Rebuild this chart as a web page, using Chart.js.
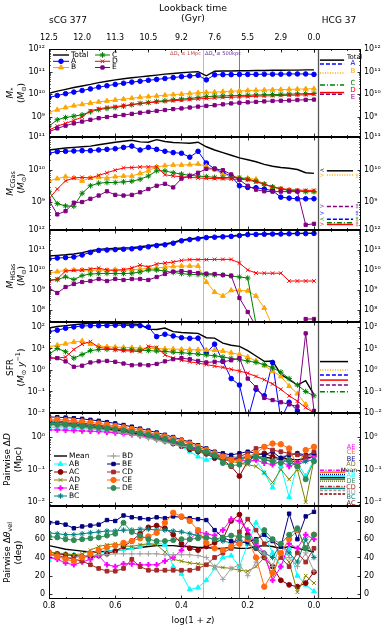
<!DOCTYPE html>
<html>
<head>
<meta charset="utf-8">
<script src="https://cdn.jsdelivr.net/npm/chart.js@4.4.1/dist/chart.umd.min.js"></script>
<style>
  body { margin: 0; background: #fff; }
  #wrap { position: relative; width: 388px; height: 630px; }
  #wrap canvas { position: absolute; left: 0; top: 0; }
</style>
</head>
<body>
<div id="wrap">
  <canvas id="p1" width="388" height="630"></canvas>
  <canvas id="p2" width="388" height="630"></canvas>
  <canvas id="p3" width="388" height="630"></canvas>
  <canvas id="p4" width="388" height="630"></canvas>
  <canvas id="p5" width="388" height="630"></canvas>
  <canvas id="p6" width="388" height="630"></canvas>
</div>
<script>
// snapshots, log(1+z)
const snapX = [0.8, 0.775, 0.75, 0.725, 0.7, 0.675, 0.65, 0.625, 0.6, 0.575, 0.55, 0.525, 0.5, 0.475, 0.45, 0.425, 0.4,
  0.375, 0.35, 0.325, 0.3, 0.275, 0.25, 0.225, 0.2, 0.175, 0.15, 0.125, 0.1, 0.075, 0.05, 0.025, 0.0];

// top axis: lookback time
const topTickPos = [0.8, 0.7, 0.6, 0.5, 0.4, 0.3, 0.2, 0.1, 0.0];
const topTickLabels = ["12.5", "12.0", "11.3", "10.5", "9.2", "7.6", "5.5", "2.9", "0.0"];
const bottomTickPos = [0.8, 0.6, 0.4, 0.2, 0.0];
const refLines = [0.335, 0.226]; // dD <= 1Mpc, dD <= 500kpc
const dividerX = -0.012;

// log10 M* (Msun)
const mstarTotal = [10.05, 10.14, 10.22, 10.3, 10.37, 10.44, 10.52, 10.58, 10.64, 10.69, 10.73, 10.77, 10.81, 10.85, 10.89, 10.92, 10.95, 10.98, 11.0, 10.82, 11.02, 11.03, 11.03, 11.04, 11.04, 11.05, 11.05, 11.06, 11.06, 11.07, 11.07, 11.08, 11.08];
const mstarA = [9.86, 9.95, 10.03, 10.1, 10.17, 10.24, 10.32, 10.38, 10.44, 10.49, 10.54, 10.58, 10.62, 10.66, 10.7, 10.74, 10.78, 10.81, 10.84, 10.64, 10.86, 10.87, 10.87, 10.88, 10.88, 10.88, 10.89, 10.89, 10.89, 10.9, 10.9, 10.9, 10.88];
const mstarB = [9.21, 9.32, 9.42, 9.5, 9.56, 9.62, 9.67, 9.71, 9.75, 9.79, 9.83, 9.87, 9.9, 9.93, 9.96, 9.99, 10.01, 10.04, 10.07, 10.09, 10.1, 10.12, 10.14, 10.15, 10.17, 10.18, 10.19, 10.2, 10.21, 10.22, 10.23, 10.24, 10.25];
const mstarC = [8.6, 8.88, 8.98, 9.04, 9.1, 9.23, 9.33, 9.38, 9.42, 9.48, 9.54, 9.6, 9.64, 9.69, 9.72, 9.76, 9.79, 9.82, 9.86, 9.9, 9.92, 9.93, 9.94, 9.95, 9.96, 9.97, 9.98, 9.99, 10.0, 10.01, 10.02, 10.03, 10.04];
const mstarD = [8.42, 8.6, 8.72, 8.85, 9.0, 9.28, 9.36, 9.42, 9.46, 9.5, 9.55, 9.6, 9.63, 9.66, 9.69, 9.72, 9.74, 9.77, 9.8, 9.82, 9.84, 9.86, 9.87, 9.89, 9.9, 9.92, 9.93, 9.94, 9.95, 9.96, 9.97, 9.98, 10.0];
const mstarE = [8.35, 8.5, 8.62, 8.72, 8.8, 8.88, 8.95, 9.0, 9.05, 9.09, 9.14, 9.19, 9.23, 9.27, 9.31, 9.35, 9.38, 9.42, 9.46, 9.49, 9.52, 9.56, 9.6, 9.63, 9.65, 9.67, 9.69, 9.71, 9.72, 9.73, 9.75, 9.76, 9.77];

// log10 M_CGas
const cgasTotal = [10.6, 10.63, 10.66, 10.68, 10.7, 10.72, 10.76, 10.8, 10.84, 10.87, 10.9, 10.85, 10.84, 10.92, 10.86, 10.83, 10.82, 10.81, 10.84, 10.7, 10.6, 10.52, 10.44, 10.36, 10.3, 10.24, 10.16, 10.1, 10.06, 10.04, 10.0, 9.9, 9.88];
const cgasA = [10.5, 10.55, 10.56, 10.57, 10.58, 10.58, 10.6, 10.62, 10.64, 10.68, 10.72, 10.6, 10.68, 10.62, 10.56, 10.52, 10.5, 10.38, 10.56, 10.2, 10.02, 9.9, 9.8, 9.5, 9.45, 9.44, 9.4, 9.35, 9.15, 9.12, 9.1, 9.1, 9.1];
const cgasB = [9.65, 9.72, 9.78, 9.74, 9.65, 9.74, 9.76, 9.74, 9.78, 9.8, 9.8, 9.88, 9.96, 10.08, 10.12, 10.14, 10.14, 10.15, 10.17, 10.1, 10.0, 9.85, 9.8, 9.76, 9.73, 9.7, 9.55, 9.46, 9.4, 9.36, 9.34, 9.33, 9.32];
const cgasC = [9.32, 8.95, 8.88, 8.87, 9.27, 9.5, 9.58, 9.6, 9.6, 9.62, 9.64, 9.7, 9.8, 9.96, 9.96, 9.9, 9.86, 9.82, 9.8, 9.78, 9.76, 9.75, 9.76, 9.74, 9.7, 9.64, 9.55, 9.47, 9.4, 9.36, 9.34, 9.32, 9.32];
const cgasD = [9.1, 9.4, 9.65, 9.74, 9.76, 9.74, 9.82, 9.9, 9.98, 10.05, 10.06, 10.08, 10.08, 10.08, 9.84, 9.8, 9.78, 9.76, 9.74, 9.73, 9.72, 9.72, 9.7, 9.7, 9.68, 9.62, 9.55, 9.46, 9.42, 9.38, 9.37, 9.36, 9.36];
const cgasE = [9.05, 8.62, 8.72, 8.98, 9.0, 9.1, 9.2, 9.33, 9.22, 9.2, 9.22, 9.3, 9.4, 9.5, 9.56, 9.45, 9.72, 9.8, 9.9, 10.02, 10.02, 9.98, 9.85, 9.68, 9.5, 9.38, 9.33, 9.32, 9.32, 9.32, 9.32, 8.3, 8.33];

// log10 M_HGas
const hgasTotal = [10.7, 10.73, 10.76, 10.8, 10.87, 10.96, 11.03, 11.06, 11.08, 11.1, 11.12, 11.16, 11.22, 11.26, 11.3, 11.38, 11.5, 11.55, 11.6, 11.64, 11.66, 11.68, 11.7, 11.74, 11.78, 11.79, 11.8, 11.81, 11.81, 11.82, 11.83, 11.83, 11.84];
const hgasA = [10.55, 10.6, 10.62, 10.65, 10.75, 10.88, 10.98, 11.0, 11.02, 11.04, 11.06, 11.1, 11.16, 11.22, 11.26, 11.34, 11.46, 11.52, 11.56, 11.62, 11.64, 11.66, 11.68, 11.72, 11.77, 11.78, 11.79, 11.8, 11.8, 11.81, 11.82, 11.82, 11.83];
const hgasB = [9.85, 9.92, 9.98, 10.0, 10.0, 9.98, 10.0, 9.98, 10.02, 9.98, 10.02, 10.04, 10.08, 10.1, 10.14, 10.18, 10.2, 10.2, 10.2, 9.4, 8.9, 8.7, 8.98, 8.98, 8.96, 8.7, 8.1, 7.2, null, null, null, null, null];
const hgasC = [9.5, 9.52, 9.66, 9.52, 9.72, 9.8, 9.82, 9.83, 9.82, 9.82, 9.84, 9.9, 10.0, 10.0, 9.95, 9.88, 9.82, 9.78, 9.77, 9.76, 9.76, 9.75, 9.7, 9.65, 9.6, 7.3, null, null, null, null, null, null, null];
const hgasD = [9.45, 9.55, 9.95, 9.98, 10.0, 10.05, 10.1, 10.0, 9.98, 10.02, 10.1, 10.25, 10.15, 10.3, 10.35, 10.4, 10.48, 10.52, 10.52, 10.52, 10.53, 10.53, 10.53, 10.35, 10.0, 9.85, 9.84, 9.84, 9.84, 9.45, 9.45, 9.45, 9.45];
const hgasE = [9.1, 8.85, 9.15, 9.3, 9.4, 9.45, 9.55, 9.45, 9.55, 9.5, 9.55, 9.55, 9.5, 9.65, 9.8, 9.92, 9.95, 9.9, 9.85, 9.82, 9.8, 9.75, 9.72, 8.6, 7.9, 7.2, null, null, null, null, null, 7.55, 7.55];

// log10 SFR (Msun/yr)
const sfrTotal = [1.95, 2.02, 2.06, 2.1, 2.14, 2.17, 2.18, 2.18, 2.16, 2.15, 2.14, 2.12, 1.9, 1.88, 1.95, 1.78, 1.74, 1.72, 1.7, 1.5, 1.48, 1.25, 1.15, 1.1, 0.9, 0.65, 0.4, 0.42, -0.2, -0.45, -0.7, -0.5, -1.15];
const sfrA = [1.78, 1.85, 1.94, 2.0, 2.04, 2.06, 2.06, 2.07, 2.08, 2.07, 2.06, 2.06, 2.0, 1.55, 1.66, 1.58, 1.5, 1.47, 1.48, 0.8, 1.2, 0.4, -0.4, -0.7, -2.3, -0.9, -1.2, 0.35, -2.3, -1.5, -1.9, -2.3, -2.3];
const sfrB = [1.08, 1.15, 1.22, 1.3, 1.35, 1.2, 1.12, 1.08, 1.06, 1.05, 1.04, 1.02, 1.0, 1.0, 0.98, 0.97, 0.96, 0.95, 0.94, 0.93, 0.92, 0.88, 0.8, 0.72, 0.6, 0.42, 0.2, -0.05, -0.3, -0.75, -1.1, -1.6, -2.0];
const sfrC = [0.73, 1.0, 0.85, 0.55, 0.72, 0.9, 0.95, 0.96, 0.95, 0.94, 0.93, 0.92, 0.9, 0.88, 0.86, 0.83, 0.8, 0.77, 0.74, 0.7, 0.66, 0.6, 0.54, 0.48, 0.42, 0.35, 0.25, 0.1, -0.1, -0.4, -0.7, -1.0, -1.2];
const sfrD = [0.54, 0.55, 0.6, 0.95, 1.2, 1.32, 1.05, 1.0, 0.95, 0.9, 0.88, 0.85, 1.1, 1.05, 0.7, 0.55, 0.45, 0.38, 0.32, 0.25, 0.18, 0.12, 0.03, -0.05, -0.15, -0.3, -0.45, -0.65, -0.9, -1.2, -1.45, -1.75, -2.0];
const sfrE = [0.57, 0.55, 0.4, 0.15, 0.2, 0.35, 0.4, 0.42, 0.38, 0.3, 0.22, 0.25, 0.22, 0.28, 0.4, 0.5, 0.55, 0.5, 0.42, 0.35, 0.38, 0.38, 0.45, 0.55, -0.4, -0.8, -1.3, -1.4, -1.5, -1.6, -1.7, 1.7, -1.9];

// HCG 37 reference levels (log10), order Total, A, B, C, D, E
const hcgMstar = [11.51, 11.34, 10.94, 10.41, 10.08, 10.01];
const hcgCgas = [9.96, 8.47, 9.83, 8.36, 8.31, 8.86];
const hcgSfr = [0.39, -0.23, 0.0, -1.01, -0.47, -0.7];

// log10 pairwise separation (Mpc)
const dMean = [0.4, 0.39, 0.38, 0.36, 0.34, 0.32, 0.29, 0.26, 0.22, 0.18, 0.14, 0.09, 0.04, -0.02, -0.08, -0.15, -0.22, -0.3, -0.38, -0.46, -0.54, -0.6, -0.65, -0.66, -0.62, -0.6, -0.62, -0.66, -0.62, -0.68, -0.7, -0.66, -0.6];
const dAB = [0.3, 0.29, 0.28, 0.27, 0.26, 0.24, 0.22, 0.2, 0.17, 0.13, 0.09, 0.05, 0.0, -0.06, -0.12, -0.2, -0.3, -0.45, -0.6, -0.7, -0.62, -0.68, -0.65, -0.6, -0.8, -0.7, -1.1, -1.55, -0.9, -1.85, -0.8, -1.2, -0.7];
const dAC = [0.47, 0.45, 0.43, 0.41, 0.39, 0.36, 0.33, 0.3, 0.26, 0.22, 0.16, 0.1, 0.03, -0.05, -0.12, -0.2, -0.28, -0.38, -0.45, -0.52, -0.65, -0.7, -0.9, -1.2, -0.75, -0.55, -0.5, -0.6, -0.65, -0.7, -0.8, -0.6, -0.55];
const dAD = [0.38, 0.37, 0.35, 0.33, 0.31, 0.28, 0.25, 0.22, 0.18, 0.14, 0.1, 0.05, 0.0, -0.06, -0.13, -0.2, -0.28, -0.36, -0.44, -0.52, -0.6, -0.68, -0.75, -0.8, -0.85, -0.9, -1.1, -1.4, -1.0, -1.3, -1.0, -2.0, -0.7];
const dAE = [0.22, 0.22, 0.21, 0.2, 0.19, 0.18, 0.17, 0.15, 0.13, 0.1, 0.07, 0.04, 0.0, -0.04, -0.09, -0.15, -0.22, -0.3, -0.38, -0.46, -0.55, -0.6, -0.65, -0.7, -0.75, -0.7, -0.8, -0.85, -0.75, -0.9, -0.8, -0.7, -0.6];
const dBC = [0.45, 0.44, 0.42, 0.4, 0.38, 0.35, 0.32, 0.29, 0.25, 0.21, 0.16, 0.11, 0.05, -0.02, -0.1, -0.17, -0.25, -0.33, -0.42, -0.5, -0.6, -0.7, -0.72, -0.65, -0.6, -0.62, -0.7, -0.75, -0.65, -0.8, -0.85, -0.75, -0.7];
const dBD = [0.35, 0.34, 0.33, 0.31, 0.29, 0.27, 0.24, 0.21, 0.17, 0.12, 0.07, 0.02, -0.04, -0.1, -0.16, -0.22, -0.28, -0.3, -0.32, -0.4, -0.5, -0.55, -0.6, -0.62, -0.6, -0.55, -0.65, -0.7, -0.6, -0.55, -0.5, -0.6, -0.55];
const dBE = [0.62, 0.61, 0.6, 0.58, 0.56, 0.53, 0.5, 0.46, 0.42, 0.37, 0.32, 0.26, 0.2, 0.14, 0.07, 0.0, -0.08, -0.15, -0.25, -0.35, -0.45, -0.5, -0.55, -0.5, -0.45, -0.5, -0.55, -0.45, -0.65, -0.55, -0.5, -0.55, -0.5];
const dCD = [0.5, 0.49, 0.47, 0.45, 0.43, 0.4, 0.37, 0.33, 0.29, 0.25, 0.2, 0.15, 0.1, 0.04, -0.02, -0.1, -0.18, -0.27, -0.37, -0.47, -0.55, -0.65, -0.7, -0.6, -0.5, -0.35, -0.3, -0.4, -0.45, -0.5, -0.55, -0.6, -0.45];
const dCE = [0.55, 0.54, 0.52, 0.5, 0.48, 0.45, 0.42, 0.38, 0.34, 0.3, 0.25, 0.2, 0.14, 0.08, 0.02, -0.05, -0.12, -0.2, -0.3, -0.4, -0.5, -0.6, -0.7, -0.75, -0.6, -0.5, -0.3, -0.2, -0.22, -0.35, -0.9, -0.4, -0.3];
const dDE = [0.4, 0.39, 0.38, 0.36, 0.34, 0.32, 0.3, 0.27, 0.24, 0.2, 0.16, 0.12, 0.07, 0.02, -0.05, -0.12, -0.2, -0.28, -0.36, -0.45, -0.55, -0.8, -0.88, -0.85, -0.75, -0.6, -0.7, -0.75, -0.8, -0.7, -0.9, -1.3, -0.75];
// HCG 37 levels, order Mean, AB, AC, AD, AE, BC, BD, BE, CD, CE, DE
const hcgPairD = [-1.25, -1.2, -1.75, -1.36, -1.02, -1.58, -1.64, -1.15, -1.52, -1.08, -1.3];

// pairwise velocity angle (deg)
const vMean = [53, 51, 49, 48, 47, 46, 46, 47, 48, 49, 50, 51, 52, 53, 53, 53, 52, 52, 51, 51, 50, 50, 51, 50, 50, 52, 53, 52, 50, 52, 50, 48, 46];
const vAB = [37, 42, 44, 43, 41, 40, 44, 47, 48, 49, 50, 52, 55, 56, 54, 30, 22, 5, 7, 15, 28, 40, 42, 30, 55, 78, 65, 45, 30, 50, 20, 10, 3];
const vAC = [46, 44, 43, 42, 41, 41, 42, 44, 47, 52, 58, 66, 73, 75, 72, 65, 55, 50, 48, 52, 56, 60, 80, 87, 65, 50, 40, 30, 15, 10, 8, 12, 24];
const vAD = [46, 45, 44, 43, 44, 48, 52, 54, 55, 53, 52, 54, 55, 54, 46, 38, 36, 34, 33, 32, 30, 29, 28, 26, 25, 30, 40, 20, 45, 35, 2, 20, 12];
const vAE = [40, 38, 34, 32, 35, 38, 42, 32, 30, 33, 33, 32, 32, 32, 36, 40, 48, 60, 68, 66, 64, 70, 82, 80, 70, 55, 45, 15, 30, 55, 50, 65, 60];
const vBC = [67, 66, 65, 65, 66, 67, 68, 69, 69, 70, 70, 71, 71, 70, 70, 69, 68, 66, 64, 62, 60, 58, 56, 60, 55, 50, 45, 40, 55, 45, 35, 60, 40];
const vBD = [43, 41, 40, 40, 41, 42, 43, 43, 44, 44, 44, 44, 44, 44, 43, 43, 43, 43, 42, 40, 30, 16, 28, 32, 20, 35, 45, 30, 55, 40, 30, 45, 25];
const vBE = [78, 78, 76, 72, 74, 75, 76, 81, 80, 86, 84, 83, 82, 84, 83, 85, 84, 83, 82, 81, 70, 62, 58, 56, 57, 60, 65, 58, 52, 88, 60, 85, 90];
const vCD = [44, 42, 40, 38, 36, 32, 28, 25, 25, 28, 38, 30, 26, 26, 26, 26, 26, 26, 28, 32, 40, 45, 50, 68, 82, 70, 55, 60, 40, 30, 45, 35, 50];
const vCE = [45, 41, 38, 36, 40, 44, 48, 51, 53, 56, 58, 61, 63, 67, 78, 89, 85, 80, 70, 56, 50, 48, 52, 55, 60, 40, 8, 23, 45, 60, 70, 50, 65];
const vDE = [63, 62, 60, 59, 60, 61, 62, 64, 66, 78, 68, 64, 60, 58, 58, 59, 60, 60, 61, 62, 60, 62, 64, 63, 62, 58, 70, 60, 55, 65, 72, 50, 65];

const X_MIN = -0.142, X_MAX = 0.8;
const FONT = '"DejaVu Sans", sans-serif';
Chart.defaults.font.family = FONT;
Chart.defaults.color = "#000";

const galKeys = ["Total", "A", "B", "C", "D", "E"];
const galStyles = {
  Total: { color: "#000000", width: 1.4, dash: [] },
  A: { color: "#0000ff", marker: "circle", r: 2.3, dash: [4, 2] },
  B: { color: "#ffa500", marker: "triangle", r: 2.8, dash: [1, 1.5] },
  C: { color: "#008000", marker: "star", r: 2.8, dash: [5, 2, 1, 2] },
  D: { color: "#ff0000", marker: "crossRot", r: 2.6, dash: [] },
  E: { color: "#800080", marker: "rect", r: 2.3, dash: [4, 2] },
};
const pairKeys = ["Mean", "AB", "AC", "AD", "AE", "BC", "BD", "BE", "CD", "CE", "DE"];
const pairStyles = {
  Mean: { color: "#000000", width: 1.4, dash: [] },
  AB: { color: "#00ffff", marker: "triangle", r: 2.8, dash: [] },
  AC: { color: "#8b0000", marker: "circle", r: 2.4, dash: [3, 1.5] },
  AD: { color: "#808000", marker: "crossRot", r: 2.6, dash: [1, 1] },
  AE: { color: "#ff00ff", marker: "cross", r: 2.8, mw: 2, dash: [4, 1.5, 1, 1.5] },
  BC: { color: "#008080", marker: "star", r: 2.8, dash: [] },
  BD: { color: "#a0a0a0", marker: "cross", r: 2.8, dash: [3, 1.5] },
  BE: { color: "#000080", marker: "rect", r: 2.4, dash: [1, 1] },
  CD: { color: "#a52a2a", marker: "rect", r: 2.6, dash: [4, 1.5, 1, 1.5] },
  CE: { color: "#ff6a10", marker: "circle", r: 2.7, dash: [] },
  DE: { color: "#2e8b57", marker: "circle", r: 2.5, dash: [] },
};

const SUP = { "0": "⁰", "1": "¹", "2": "²", "3": "³", "4": "⁴", "5": "⁵", "6": "⁶", "7": "⁷", "8": "⁸", "9": "⁹", "-": "⁻" };
function powLabel(v) {
  const e = Math.round(Math.log10(v));
  return "10" + String(e).split("").map((c) => SUP[c]).join("");
}

function toPoints(vals, isLog) {
  return snapX.map((x, i) => ({ x, y: vals[i] === null ? null : isLog ? Math.pow(10, vals[i]) : vals[i] }));
}

function buildDatasets(keys, styles, seriesList, isLog, hcgVals, hcgRange) {
  const ds = keys.map((k, i) => {
    const s = styles[k];
    return {
      data: toPoints(seriesList[i], isLog),
      borderColor: s.color,
      backgroundColor: s.color,
      borderWidth: s.width || 1,
      pointStyle: s.marker || "circle",
      pointRadius: s.marker ? s.r : 0,
      pointBorderWidth: s.mw || 1,
      order: keys.length - i,
    };
  });
  if (hcgVals) {
    keys.forEach((k, i) => {
      const s = styles[k];
      const y = isLog ? Math.pow(10, hcgVals[i]) : hcgVals[i];
      ds.push({
        data: [{ x: hcgRange[0], y }, { x: hcgRange[1], y }],
        borderColor: s.color,
        borderDash: s.dash,
        borderWidth: 1.5,
        pointRadius: 0,
        order: -1 - i,
      });
    });
  }
  return ds;
}

// ---------- text helpers ----------
function partFont(p, size) {
  const s = p.sub || p.sup ? size * 0.72 : size;
  return (p.it ? "italic " : "") + s.toFixed(2) + "px " + FONT;
}
function richText(ctx, item) {
  const parts = typeof item.t === "string" ? [{ t: item.t }] : item.t;
  const size = item.size || 8;
  let w = 0;
  parts.forEach((p) => { ctx.font = partFont(p, size); w += ctx.measureText(p.t).width; });
  ctx.save();
  ctx.translate(item.x, item.y);
  if (item.rot) ctx.rotate(item.rot);
  ctx.fillStyle = item.color || "#000";
  ctx.textBaseline = "middle";
  ctx.textAlign = "left";
  let cx = item.align === "right" ? -w : item.align === "left" ? 0 : -w / 2;
  parts.forEach((p) => {
    ctx.font = partFont(p, size);
    const dy = p.sub ? size * 0.28 : p.sup ? -size * 0.38 : 0;
    ctx.fillText(p.t, cx, dy);
    cx += ctx.measureText(p.t).width;
  });
  ctx.restore();
}

function drawLegend(ctx, entries, styles) {
  const dp = Chart.helpers && Chart.helpers.drawPoint;
  entries.forEach((e) => {
    const s = styles[e.key];
    ctx.save();
    ctx.strokeStyle = s.color;
    ctx.lineWidth = s.width || 1;
    ctx.beginPath();
    ctx.moveTo(e.x, e.y);
    ctx.lineTo(e.x + e.len, e.y);
    ctx.stroke();
    if (s.marker && dp) {
      ctx.fillStyle = s.color;
      ctx.lineWidth = s.mw || 1;
      dp(ctx, { pointStyle: s.marker, radius: s.r, borderWidth: s.mw || 1, rotation: 0 }, e.x + e.len / 2, e.y);
    }
    ctx.restore();
    richText(ctx, { t: e.key, x: e.x + e.len + 2, y: e.y, size: 7.5, align: "left" });
  });
}

const xMajor = [0.8, 0.6, 0.4, 0.2, 0.0];
const xMinor = [0.75, 0.7, 0.65, 0.55, 0.5, 0.45, 0.35, 0.3, 0.25, 0.15, 0.1, 0.05, -0.05, -0.1];

function framePlugin(cfg) {
  return {
    id: "frame_" + cfg.id,
    beforeDatasetsDraw(chart) {
      const { ctx, chartArea: a } = chart;
      const x = chart.scales.x;
      ctx.save();
      ctx.lineWidth = 1;
      ["rgba(190,120,120,0.6)", "#9464c8"].forEach((c, i) => {
        const px = Math.round(x.getPixelForValue(refLines[i])) + 0.5;
        ctx.strokeStyle = c;
        ctx.beginPath();
        ctx.moveTo(px, a.top);
        ctx.lineTo(px, a.bottom);
        ctx.stroke();
      });
      ctx.restore();
    },
    afterDatasetsDraw(chart) {
      const { ctx, chartArea: a } = chart;
      const x = chart.scales.x, y = chart.scales.y;
      ctx.save();
      // divider between evolution and HCG 37 part
      const dv = Math.round(x.getPixelForValue(dividerX)) + 0.5;
      ctx.strokeStyle = "#555";
      ctx.lineWidth = 1.3;
      ctx.beginPath();
      ctx.moveTo(dv, a.top);
      ctx.lineTo(dv, a.bottom);
      ctx.stroke();
      // frame
      ctx.strokeStyle = "#000";
      ctx.lineWidth = 1;
      ctx.strokeRect(a.left + 0.5, a.top + 0.5, a.right - a.left - 1, a.bottom - a.top - 1);
      // inward ticks
      ctx.lineWidth = 0.8;
      ctx.beginPath();
      const xt = (v, len, top, bot) => {
        const px = Math.round(x.getPixelForValue(v)) + 0.5;
        if (top) { ctx.moveTo(px, a.top); ctx.lineTo(px, a.top + len); }
        if (bot) { ctx.moveTo(px, a.bottom); ctx.lineTo(px, a.bottom - len); }
      };
      xMajor.forEach((v) => xt(v, 3.5, true, true));
      xMinor.forEach((v) => xt(v, 2, true, true));
      if (cfg.topAxis) topTickPos.forEach((v) => xt(v, 3.5, true, false));
      const yt = (v, len) => {
        const py = Math.round(y.getPixelForValue(v)) + 0.5;
        if (py < a.top - 0.1 || py > a.bottom + 0.6) return;
        ctx.moveTo(a.left, py); ctx.lineTo(a.left + len, py);
        ctx.moveTo(a.right, py); ctx.lineTo(a.right - len, py);
      };
      cfg.yTicks.forEach((v) => yt(v, 3.5));
      if (cfg.yType === "logarithmic") {
        const e0 = Math.floor(Math.log10(cfg.yMin)), e1 = Math.ceil(Math.log10(cfg.yMax));
        for (let e = e0; e <= e1; e++) {
          for (let k = 2; k <= 9; k++) {
            const v = k * Math.pow(10, e);
            if (v > cfg.yMin && v < cfg.yMax) yt(v, 1.8);
          }
        }
      }
      ctx.stroke();
      ctx.restore();
      // y titles
      const cy = (a.top + a.bottom) / 2;
      cfg.title.forEach((t, i) => richText(ctx, { t, x: cfg.titleX[i], y: cy, size: 9, rot: -Math.PI / 2 }));
      if (cfg.legend) drawLegend(ctx, cfg.legend, cfg.styles);
      (cfg.texts || []).forEach((t) => richText(ctx, t));
    },
  };
}

function panel(cfg) {
  const isLog = cfg.yType === "logarithmic";
  const yAxis = (pos) => ({
    type: cfg.yType,
    position: pos,
    min: cfg.yMin,
    max: cfg.yMax,
    grid: { display: false, drawTicks: false },
    border: { display: false },
    ticks: {
      autoSkip: false,
      padding: pos === "left" ? 4 : 3,
      font: { size: 8 },
      color: "#000",
      callback: (v) => (isLog ? powLabel(v) : String(v)),
    },
    afterBuildTicks: (s) => { s.ticks = cfg.yTicks.map((v) => ({ value: v })); },
    afterFit: (s) => { s.width = pos === "left" ? 49 : 27; },
  });
  const scales = {
    x: {
      type: "linear",
      min: X_MIN,
      max: X_MAX,
      reverse: true,
      display: !!cfg.bottomAxis,
      grid: { display: false, drawTicks: false },
      border: { display: false },
      ticks: { autoSkip: false, maxRotation: 0, padding: 2, font: { size: 8 }, color: "#000", callback: (v) => v.toFixed(1) },
      afterBuildTicks: (s) => { s.ticks = bottomTickPos.map((v) => ({ value: v })); },
      afterFit: (s) => { if (cfg.bottomAxis) s.height = 31; },
    },
    y: yAxis("left"),
    y2: yAxis("right"),
  };
  if (cfg.topAxis) {
    scales.x2 = {
      type: "linear",
      position: "top",
      min: X_MIN,
      max: X_MAX,
      reverse: true,
      grid: { display: false, drawTicks: false },
      border: { display: false },
      ticks: { autoSkip: false, maxRotation: 0, padding: 6, font: { size: 8 }, color: "#000", callback: (v, i) => topTickLabels[i] },
      afterBuildTicks: (s) => { s.ticks = topTickPos.map((v) => ({ value: v })); },
      afterFit: (s) => { s.height = 20; },
    };
  }
  return new Chart(document.getElementById(cfg.id), {
    type: "line",
    data: { datasets: cfg.datasets },
    options: {
      responsive: false,
      animation: false,
      devicePixelRatio: 1,
      events: [],
      layout: { padding: { top: cfg.padTop, bottom: cfg.padBottom, left: 0, right: 0 } },
      plugins: { legend: { display: false }, tooltip: { enabled: false } },
      scales,
    },
    plugins: [framePlugin(cfg)],
  });
}

const MSUN = [{ t: "(" }, { t: "M", it: true }, { t: "⊙", sub: true }, { t: ")" }];

panel({
  id: "p1", padTop: 29, padBottom: 630 - 137,
  yType: "logarithmic", yMin: Math.pow(10, 8.12), yMax: 1e12, yTicks: [1e9, 1e10, 1e11, 1e12],
  topAxis: true,
  datasets: buildDatasets(galKeys, galStyles, [mstarTotal, mstarA, mstarB, mstarC, mstarD, mstarE], true, hcgMstar, [-0.018, -0.091]),
  title: [[{ t: "M", it: true }, { t: "*", sub: true }], MSUN], titleX: [11, 22],
  styles: galStyles,
  legend: [
    { key: "Total", x: 53, y: 55, len: 16 }, { key: "A", x: 53, y: 61.3, len: 16 }, { key: "B", x: 53, y: 67.5, len: 16 },
    { key: "C", x: 95, y: 55, len: 15 }, { key: "D", x: 95, y: 61.3, len: 15 }, { key: "E", x: 95, y: 67.5, len: 15 },
  ],
  texts: [
    { t: "Lookback time", x: 193, y: 8.5, size: 9.3 },
    { t: "(Gyr)", x: 193, y: 19, size: 9.3 },
    { t: "sCG 377", x: 68, y: 21, size: 9 },
    { t: "HCG 37", x: 339, y: 21, size: 9 },
    { t: [{ t: "Δ" }, { t: "D", it: true }, { t: "s", sub: true }, { t: " ≤ 1Mpc" }], x: 201, y: 53.5, size: 5.2, align: "right", color: "#c0504d" },
    { t: [{ t: "Δ" }, { t: "D", it: true }, { t: "s", sub: true }, { t: " ≤ 500kpc" }], x: 205, y: 53.5, size: 5.2, align: "left", color: "#7030a0" },
    { t: "Total", x: 347, y: 57, size: 6.5, align: "left" },
    { t: "A", x: 353, y: 63, size: 7, color: "#0000ff" },
    { t: "B", x: 353, y: 71, size: 7, color: "#ffa500" },
    { t: "C", x: 353, y: 83, size: 7, color: "#008000" },
    { t: "D", x: 353, y: 90, size: 7, color: "#ff0000" },
    { t: "E", x: 353, y: 97, size: 7, color: "#800080" },
  ],
});

panel({
  id: "p2", padTop: 137, padBottom: 630 - 230,
  yType: "logarithmic", yMin: Math.pow(10, 8.14), yMax: 1e11, yTicks: [1e9, 1e10, 1e11],
  datasets: buildDatasets(galKeys, galStyles, [cgasTotal, cgasA, cgasB, cgasC, cgasD, cgasE], true, hcgCgas, [-0.039, -0.118]),
  title: [[{ t: "M", it: true }, { t: "CGas", sub: true }], MSUN], titleX: [11, 22],
  texts: [
    { t: "<", x: 322, y: 170, size: 6, color: "#000" },
    { t: ">", x: 322, y: 175, size: 6, color: "#ffa500" },
    { t: ">", x: 322, y: 206, size: 6, color: "#800080" },
    { t: ">", x: 322, y: 213, size: 6, color: "#0000ff" },
    { t: "<", x: 322, y: 219, size: 6, color: "#008000" },
    { t: ">", x: 322, y: 224, size: 6, color: "#ff0000" },
    { t: "‡", x: 357, y: 176, size: 6, color: "#ffa500" },
    { t: "‡", x: 357, y: 206, size: 6, color: "#800080" },
    { t: "‡", x: 357, y: 213, size: 6, color: "#0000ff" },
    { t: "‡", x: 357, y: 219, size: 6, color: "#008000" },
    { t: "‡", x: 357, y: 224, size: 6, color: "#ff0000" },
  ],
});

panel({
  id: "p3", padTop: 230, padBottom: 630 - 322,
  yType: "logarithmic", yMin: Math.pow(10, 7.4), yMax: 1e12, yTicks: [1e8, 1e9, 1e10, 1e11, 1e12],
  datasets: buildDatasets(galKeys, galStyles, [hgasTotal, hgasA, hgasB, hgasC, hgasD, hgasE], true),
  title: [[{ t: "M", it: true }, { t: "HGas", sub: true }], MSUN], titleX: [11, 22],
});

panel({
  id: "p4", padTop: 322, padBottom: 630 - 413,
  yType: "logarithmic", yMin: 1e-2, yMax: Math.pow(10, 2.23), yTicks: [1e-2, 1e-1, 1, 10, 100],
  datasets: buildDatasets(galKeys, galStyles, [sfrTotal, sfrA, sfrB, sfrC, sfrD, sfrE], true, hcgSfr, [-0.018, -0.103]),
  title: ["SFR", [{ t: "(" }, { t: "M", it: true }, { t: "⊙", sub: true }, { t: " " }, { t: "y", it: true }, { t: "−1", sup: true }, { t: ")" }]],
  titleX: [11, 22],
});

panel({
  id: "p5", padTop: 413, padBottom: 630 - 506,
  yType: "logarithmic", yMin: Math.pow(10, -2.12), yMax: Math.pow(10, 0.74), yTicks: [1e-2, 1e-1, 1],
  datasets: buildDatasets(pairKeys, pairStyles, [dMean, dAB, dAC, dAD, dAE, dBC, dBD, dBE, dCD, dCE, dDE], true, hcgPairD, [-0.018, -0.094]),
  title: [[{ t: "Pairwise Δ" }, { t: "D", it: true }], "(Mpc)"], titleX: [8, 19],
  styles: pairStyles,
  legend: [
    { key: "Mean", x: 54, y: 456, len: 13 }, { key: "AB", x: 54, y: 464, len: 13 }, { key: "AC", x: 54, y: 472, len: 13 },
    { key: "AD", x: 54, y: 480, len: 13 }, { key: "AE", x: 54, y: 488, len: 13 }, { key: "BC", x: 54, y: 496, len: 13 },
    { key: "BD", x: 107, y: 456, len: 13 }, { key: "BE", x: 107, y: 464, len: 13 }, { key: "CD", x: 107, y: 472, len: 13 },
    { key: "CE", x: 107, y: 480, len: 13 }, { key: "DE", x: 107, y: 488, len: 13 },
  ],
  texts: [
    { t: "AE", x: 351, y: 447, size: 6.5, color: "#ff00ff" },
    { t: "CE", x: 351, y: 452.5, size: 6.5, color: "#ff6a10" },
    { t: "BE", x: 351, y: 459, size: 6.5, color: "#000080" },
    { t: "AD", x: 351, y: 464.5, size: 6.5, color: "#808000" },
    { t: "Mean", x: 349, y: 470, size: 6, color: "#000" },
    { t: "AB", x: 351, y: 475.5, size: 6.5, color: "#00ffff" },
    { t: "DE", x: 351, y: 481, size: 6.5, color: "#2e8b57" },
    { t: "CD", x: 351, y: 487, size: 6.5, color: "#a52a2a" },
    { t: "BD", x: 351, y: 492, size: 6.5, color: "#a0a0a0" },
    { t: "BC", x: 351, y: 497.5, size: 6.5, color: "#008080" },
    { t: "AC", x: 351, y: 503, size: 6.5, color: "#8b0000" },
  ],
});

panel({
  id: "p6", padTop: 506, padBottom: 0,
  yType: "linear", yMin: -5.5, yMax: 96.4, yTicks: [0, 20, 40, 60, 80],
  bottomAxis: true,
  datasets: buildDatasets(pairKeys, pairStyles, [vMean, vAB, vAC, vAD, vAE, vBC, vBD, vBE, vCD, vCE, vDE], false),
  title: [[{ t: "Pairwise Δ" }, { t: "θ", it: true }, { t: "vel", sub: true }], "(deg)"], titleX: [8, 19],
  texts: [
    { t: [{ t: "log(1 + " }, { t: "z", it: true }, { t: ")" }], x: 193, y: 621, size: 8.7 },
  ],
});
</script>
</body>
</html>
